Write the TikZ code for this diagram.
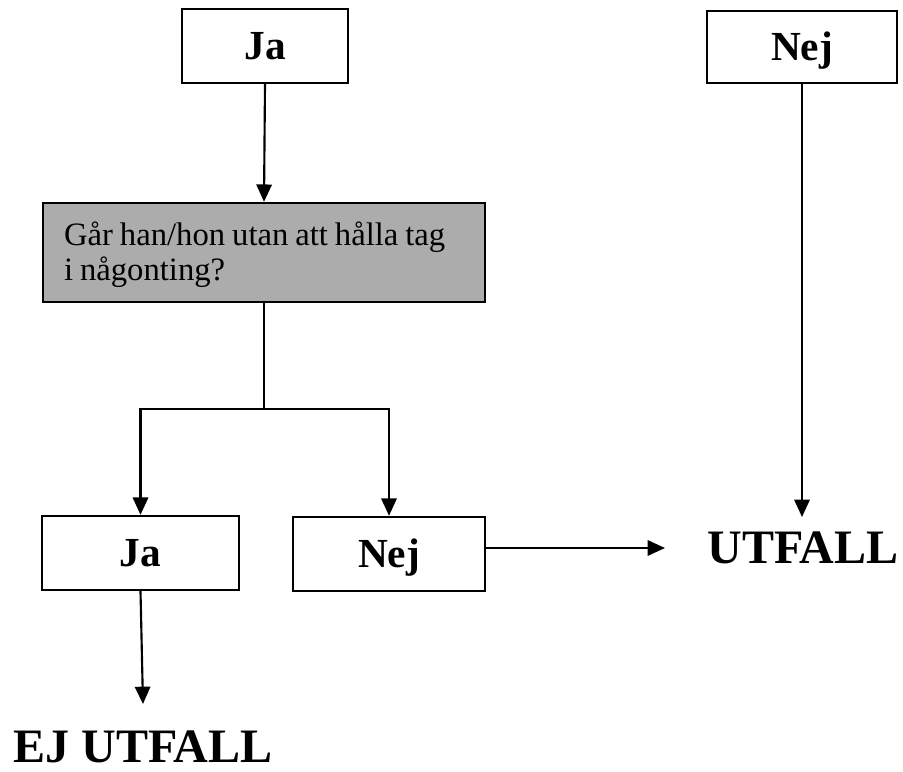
\documentclass[tikz,border=0pt]{standalone}
\usepackage{fontspec}
\setmainfont{Liberation Serif}
\newfontfamily\qfont[WordSpace=0.85]{Liberation Serif}
\usetikzlibrary{arrows.meta}
\definecolor{qgray}{RGB}{172,172,172}
\tikzset{
  box/.style={draw, line width=1.8pt, inner sep=0pt, text height=20.5pt, text depth=0pt,
    font=\fontsize{31}{36}\selectfont\bfseries},
  qbox/.style={draw, line width=1.8pt, fill=qgray, inner sep=0pt},
  qtext/.style={inner sep=0pt, align=left, font=\qfont\fontsize{24.5}{26.25}\selectfont},
  result/.style={inner sep=0pt, font=\fontsize{36}{40}\selectfont\bfseries},
  arr/.style={line width=1.6pt, -{Triangle[length=13pt,width=11.5pt]}},
  link/.style={line width=1.6pt}
}
\begin{document}
\begin{tikzpicture}[x=0.75pt,y=-0.75pt]
    \useasboundingbox (0,0) rectangle (903,771);

    % Boxes
    \node[box, minimum width=124.5pt, minimum height=55.5pt] (topja) at (265,46) {Ja};
    \node[box, minimum width=142.5pt, minimum height=54pt] (topnej) at (802,47) {Nej};
    \node[qbox, minimum width=331.5pt, minimum height=74.25pt] (question) at (264,252.5) {};
    \node[qtext, anchor=west] (qlabel) at ([xshift=16.5pt,yshift=-1.5pt]question.west)
        {Går han/hon utan att hålla tag\\ i någonting?};
    \node[box, minimum width=147.75pt, minimum height=55.5pt] (botja) at (140.5,553) {Ja};
    \node[box, minimum width=144pt, minimum height=55.5pt] (botnej) at (389,554) {Nej};

    % Results
    \node[result] (utfall) at (803,548) {UTFALL};
    \node[result] (ejutfall) at (143,746.5) {EJ UTFALL};

    % Arrow ends and branch point
    \coordinate (split) at (264,409);
    \coordinate (utfalltop) at (802,517);
    \coordinate (nejtip) at (665,548);
    \coordinate (ejtip) at (143,704);

    % Arrows
    \draw[arr] (topja.south) -- (question.north);
    \draw[link] (question.south) -- (split);
    \draw[arr] (split) -| (botja.north);
    \draw[arr] (split) -| (botnej.north);
    \draw[arr] (topnej.south) -- (utfalltop);
    \draw[arr] (botnej.east |- utfall) -- (nejtip);
    \draw[arr] (botja.south) -- (ejtip);
\end{tikzpicture}
\end{document}
